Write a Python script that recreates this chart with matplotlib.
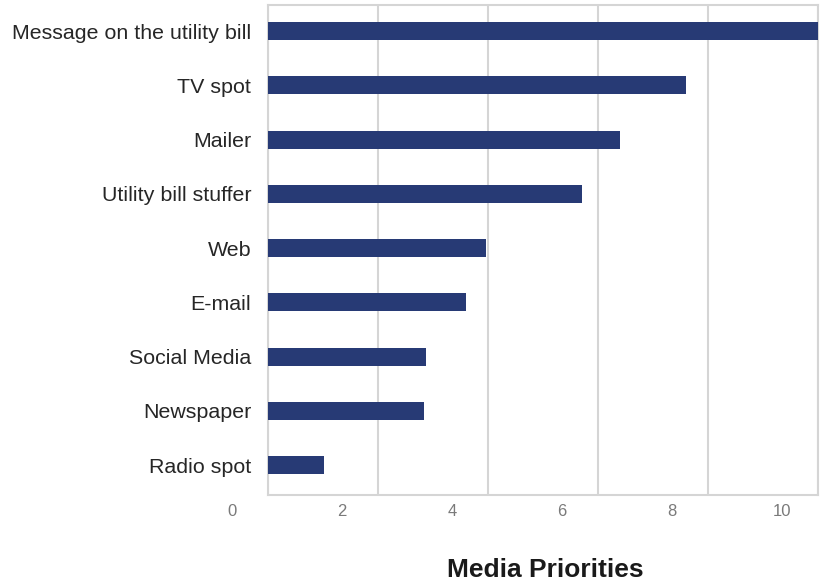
import matplotlib.pyplot as plt
import matplotlib.transforms as mtransforms

plt.rcParams['font.family'] = ['Liberation Sans', 'DejaVu Sans']

# Media channels, top to bottom, with their priority scores
channels = [
    "Message on the utility bill",
    "TV spot",
    "Mailer",
    "Utility bill stuffer",
    "Web",
    "E-mail",
    "Social Media",
    "Newspaper",
    "Radio spot",
]
scores = [10.0, 7.6, 6.4, 5.7, 3.97, 3.6, 2.88, 2.84, 1.02]
xticks = [0, 2, 4, 6, 8, 10]

bar_color = "#273a75"
grid_color = "#d5d5d5"

fig = plt.figure(figsize=(8.21, 5.84), dpi=100)
ax = fig.add_axes([0.3264, 0.1524, 0.6700, 0.8390])

# draw bottom-up so the first channel sits at the top
ypos = list(range(len(channels)))[::-1]
ax.barh(ypos, scores, height=0.33, color=bar_color, zorder=3)

ax.set_xlim(0, 10)
ax.set_ylim(-0.55, 8.48)
ax.set_yticks(ypos)
ax.set_yticklabels(channels, fontsize=15.4, color="#262626")

ax.set_xticks(xticks)
ax.set_xticklabels([])
# x labels sit a bit left of their gridlines
shift = mtransforms.ScaledTranslation(-0.36, -0.17, fig.dpi_scale_trans)
for v in xticks:
    ax.text(v, 0, str(v), transform=ax.get_xaxis_transform() + shift,
            ha="center", va="center", fontsize=12, color="#7a7a7a")

ax.tick_params(axis="both", length=0)
ax.tick_params(axis="y", pad=12)

ax.grid(axis="x", color=grid_color, linewidth=1.5, zorder=0)
ax.grid(axis="y", visible=False)
for sp in ax.spines.values():
    sp.set_color(grid_color)
    sp.set_linewidth(1.5)

fig.text(0.664, 0.024, "Media Priorities", ha="center", va="center",
         fontsize=19, fontweight="bold", color="#1a1a1a")

fig.savefig("out.png", dpi=100)
